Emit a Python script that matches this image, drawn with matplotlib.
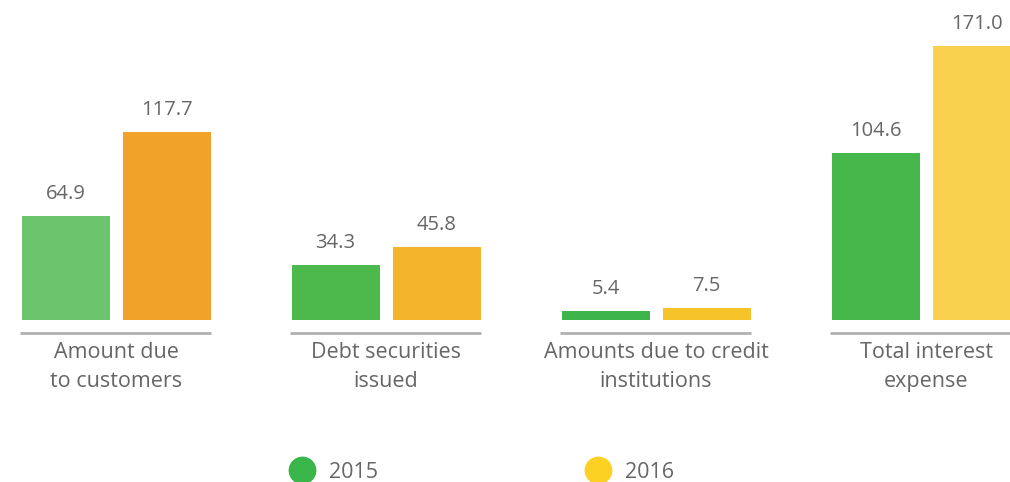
import matplotlib
matplotlib.use("Agg")
import matplotlib.pyplot as plt
import numpy as np

categories = ["Amount due\nto customers", "Debt securities\nissued",
              "Amounts due to credit\ninstitutions", "Total interest\nexpense"]
values_2015 = [64.9, 34.3, 5.4, 104.6]
values_2016 = [117.7, 45.8, 7.5, 171.0]
series_labels = ["2015", "2016"]

colors_2015 = ["#6cc46c", "#4db84b", "#3db54a", "#45b74b"]
colors_2016 = ["#f0a229", "#f4b42c", "#f6c42a", "#f9d14f"]
legend_colors = ["#3ab54a", "#fcd124"]

plt.rcParams['font.family'] = ['Open Sans', 'DejaVu Sans']
W, H = 1010, 482
fig = plt.figure(figsize=(W / 100, H / 100), dpi=100)
ax = fig.add_axes([0, (H - 320) / H, 1, 320 / H])
spacing = 270.0
x0 = 116.0
ax.set_xlim(-x0 / spacing, (W - x0) / spacing)
ax.set_ylim(0, 200)
ax.axis('off')

x = np.arange(len(categories))
bw = 88 / spacing
off = (88 / 2 + 6.5) / spacing
b1 = ax.bar(x - off, values_2015, width=bw, color=colors_2015)
b2 = ax.bar(x + off, values_2016, width=bw, color=colors_2016)

txt = "#666666"
pxy = 200 / 320
for rects, vals in ((b1, values_2015), (b2, values_2016)):
    for r, v in zip(rects, vals):
        ax.text(r.get_x() + r.get_width() / 2, v + 12 * pxy, f"{v:.1f}",
                ha='center', va='bottom', fontsize=14.5, color=txt)

for i, c in enumerate(categories):
    left = i - off - bw / 2 - 2 / spacing
    right = i + off + bw / 2
    ax.plot([left, right], [-13 * pxy, -13 * pxy], color="#b0b0b0", lw=2,
            clip_on=False, solid_capstyle='butt')
    ax.text(i, -22 * pxy, c, ha='center', va='top', fontsize=15.5, color=txt,
            linespacing=1.5)

leg_x = [302, 598]
for lx, col, lab in zip(leg_x, legend_colors, series_labels):
    fig.lines.append(plt.Line2D([lx / W], [1 - 470 / H], marker='o', markersize=19,
                                color=col, transform=fig.transFigure, lw=0))
    fig.text((lx + 27) / W, 1 - 472 / H, lab, ha='left', va='center',
             fontsize=15.5, color=txt)

fig.savefig("out.png", dpi=100, facecolor='white')
